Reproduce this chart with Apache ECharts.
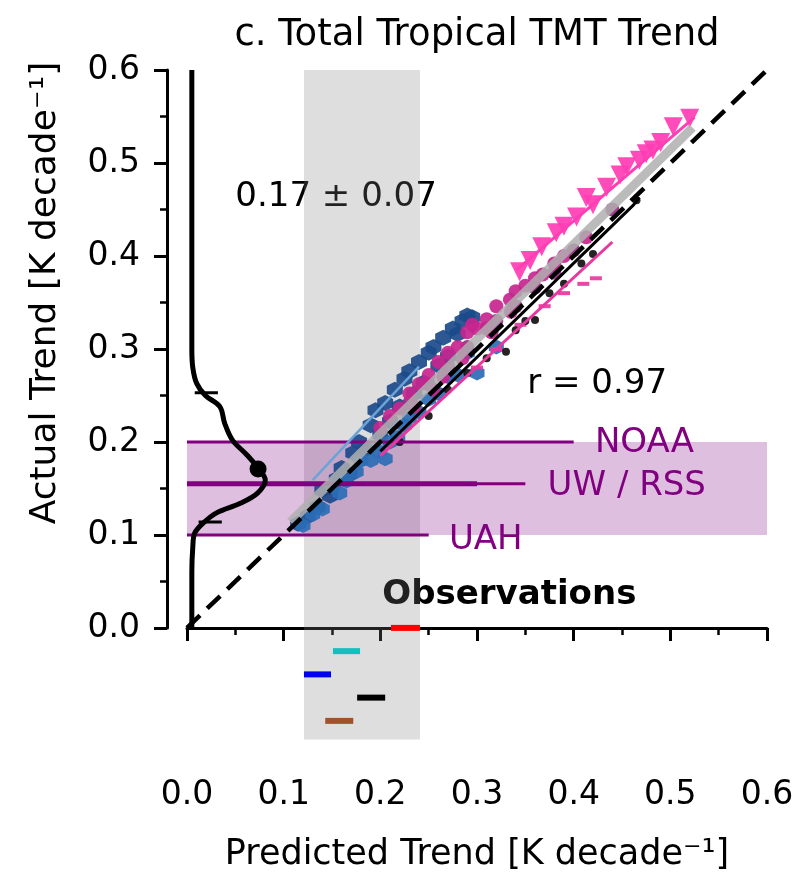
<!DOCTYPE html>
<html>
<head>
<meta charset="utf-8">
<script src="https://cdn.jsdelivr.net/npm/echarts@6/dist/echarts.min.js"></script>
<style>
  html, body { margin: 0; padding: 0; background: #fff; }
  #chart { width: 800px; height: 879px; }
</style>
</head>
<body>
<div id="chart"></div>
<script>
// model trends: [predicted, actual]
const hexDark = [[0.115,0.112],[0.125,0.12],[0.135,0.13],[0.14,0.148],[0.148,0.142],[0.155,0.16],[0.16,0.172],[0.168,0.165],[0.172,0.188],[0.178,0.2],[0.185,0.192],[0.19,0.218],[0.195,0.234],[0.2,0.208],[0.205,0.242],[0.21,0.222],[0.215,0.256],[0.22,0.238],[0.225,0.268],[0.23,0.276],[0.235,0.252],[0.24,0.286],[0.245,0.264],[0.25,0.296],[0.255,0.302],[0.26,0.282],[0.265,0.312],[0.27,0.292],[0.275,0.322],[0.28,0.316],[0.285,0.33],[0.29,0.336],[0.295,0.334]];
const hexBlue = [[0.12,0.11],[0.13,0.122],[0.14,0.128],[0.15,0.152],[0.158,0.145],[0.165,0.158],[0.175,0.168],[0.18,0.18],[0.19,0.18],[0.198,0.19],[0.205,0.182],[0.21,0.2],[0.218,0.205],[0.225,0.218],[0.23,0.226],[0.24,0.232],[0.25,0.246],[0.26,0.252],[0.27,0.27],[0.28,0.272],[0.29,0.296],[0.3,0.274],[0.32,0.302]];
const circMag = [[0.2,0.215],[0.21,0.228],[0.22,0.236],[0.23,0.252],[0.235,0.238],[0.24,0.262],[0.25,0.272],[0.255,0.256],[0.26,0.286],[0.265,0.27],[0.27,0.296],[0.28,0.302],[0.285,0.29],[0.29,0.318],[0.295,0.326],[0.3,0.322],[0.31,0.332],[0.315,0.318],[0.32,0.346],[0.334,0.353],[0.335,0.34],[0.34,0.362],[0.35,0.368],[0.36,0.376],[0.368,0.38],[0.38,0.392],[0.39,0.4],[0.413,0.42]];
const circPurple = [[0.23,0.242],[0.25,0.262],[0.27,0.282],[0.29,0.302],[0.31,0.322],[0.32,0.33],[0.34,0.346],[0.36,0.366],[0.38,0.382],[0.4,0.406],[0.44,0.45]];
const dotsBlack = [[0.22,0.2],[0.25,0.228],[0.27,0.256],[0.29,0.274],[0.31,0.29],[0.33,0.297],[0.34,0.32],[0.35,0.33],[0.36,0.331],[0.375,0.36],[0.39,0.37],[0.408,0.392],[0.42,0.402],[0.465,0.46]];
const dashPink = [[0.3,0.28],[0.32,0.3],[0.345,0.326],[0.37,0.346],[0.39,0.36],[0.41,0.37],[0.423,0.376]];
const triPink = [[0.344,0.383],[0.355,0.395],[0.367,0.41],[0.382,0.425],[0.39,0.432],[0.403,0.442],[0.413,0.463],[0.42,0.455],[0.434,0.474],[0.448,0.487],[0.455,0.496],[0.468,0.503],[0.475,0.51],[0.482,0.514],[0.49,0.522],[0.503,0.539],[0.52,0.548]];

// fit lines
const oneToOne = [[0, 0], [0.6, 0.6]];
const fitGray = [[0.107, 0.114], [0.523, 0.538]];
const fitTri = [[0.341, 0.385], [0.525, 0.549]];
const fitBlack = [[0.2, 0.19], [0.462, 0.455], [0.468, 0.463]];
const fitPink = [[0.2, 0.185], [0.44, 0.415]];
const fitBlue = [[0.13, 0.159], [0.24, 0.281]];

// observations
const obsBand = [0.1, 0.2];
const obsNOAA = [[0, 0.2], [0.4, 0.2]];
const obsUW = [[0, 0.155], [0.3, 0.155]];
const obsRSS = [[0, 0.155], [0.35, 0.155]];
const obsUAH = [[0, 0.1], [0.25, 0.1]];
const predBand = [0.121, 0.241];
const predBars = [
  { color: '#ff0000', pts: [[0.211, 0], [0.241, 0]] },
  { color: '#17bebe', pts: [[0.151, -0.025], [0.179, -0.025]] },
  { color: '#0000ee', pts: [[0.121, -0.05], [0.149, -0.05]] },
  { color: '#000000', pts: [[0.176, -0.075], [0.205, -0.075]] },
  { color: '#a0522d', pts: [[0.143, -0.1], [0.172, -0.1]] }
];

// distribution of actual trend (drawn along the y axis)
const pdfCurve = [[0.005,0.6],[0.005,0.3],[0.006,0.28],[0.01,0.263],[0.019,0.25],[0.034,0.238],[0.039,0.22],[0.047,0.202],[0.062,0.186],[0.0735,0.172],[0.081,0.159],[0.073,0.145],[0.055,0.134],[0.031,0.124],[0.017,0.113],[0.008,0.102],[0.006,0.087],[0.005,0.06],[0.005,0]];
const pdfMean = [[0.0735, 0.171]];
const pdfTicks = [[[0.008, 0.253], [0.032, 0.253]], [[0.012, 0.114], [0.036, 0.114]]];

const notes = [
  { text: '0.17 ± 0.07', pos: [0.05, 0.463], color: '#000', bold: false },
  { text: 'r = 0.97', pos: [0.352, 0.262], color: '#000', bold: false },
  { text: 'NOAA', pos: [0.422, 0.199], color: '#800080', bold: false },
  { text: 'UW / RSS', pos: [0.373, 0.152], color: '#800080', bold: false },
  { text: 'UAH', pos: [0.271, 0.094], color: '#800080', bold: false },
  { text: 'Observations', pos: [0.202, 0.035], color: '#000', bold: true }
];

const FONT = 'DejaVu Sans';
const hexPath = 'path://M0,-10L8.66,-5L8.66,5L0,10L-8.66,5L-8.66,-5Z';

const chart = echarts.init(document.getElementById('chart'));

const line = (data, color, width, extra) => Object.assign({
  type: 'line', data: data, symbol: 'none', silent: true,
  lineStyle: { color: color, width: width }, xAxisIndex: 0, yAxisIndex: 0
}, extra || {});

const scat = (data, symbol, color, size, extra) => Object.assign({
  type: 'scatter', data: data, symbol: symbol, symbolSize: size, silent: true,
  itemStyle: { color: color, opacity: 0.92 }, xAxisIndex: 0, yAxisIndex: 0
}, extra || {});

const series = [];

// bands
series.push({
  type: 'line', data: [], xAxisIndex: 0, yAxisIndex: 0, silent: true,
  markArea: {
    silent: true,
    data: [
      [{ coord: [predBand[0], -0.12], itemStyle: { color: 'rgba(128,128,128,0.26)' } }, { coord: [predBand[1], 0.6] }],
      [{ coord: [0, obsBand[0]], itemStyle: { color: 'rgba(128,0,128,0.25)' } }, { coord: [0.6, obsBand[1]] }]
    ]
  }
});

// observation lines
series.push(line(obsNOAA, '#800080', 3));
series.push(line(obsRSS, '#800080', 3));
series.push(line(obsUW, '#800080', 5));
series.push(line(obsUAH, '#800080', 3));

// model scatter
series.push(scat(hexDark, hexPath, '#1b4a8a', 16));
series.push(scat(hexBlue, hexPath, '#2a6db5', 15));
series.push(line(fitBlue, '#6aa3d8', 2.5));
series.push(scat(circPurple, 'circle', '#9a2c85', 14));
series.push(scat(circMag, 'circle', '#c7258e', 14));
series.push(line(fitPink, '#e8379f', 3));
series.push(scat(dashPink, 'rect', '#e8379f', [12, 4]));
series.push(line(fitBlack, '#000', 3));
series.push(scat(dotsBlack, 'circle', '#111', 8));
series.push(line(fitGray, 'rgba(175,175,175,0.85)', 9));
series.push(line(fitTri, '#ff3db4', 3));
series.push(scat(triPink, 'triangle', '#ff3db4', 19, { symbolRotate: 180 }));
series.push(line(oneToOne, '#000', 4.5, { lineStyle: { color: '#000', width: 4.5, type: [18, 10] } }));

// predicted observations bars
predBars.forEach(b => series.push(line(b.pts, b.color, 6)));

// distribution curve
series.push(line(pdfCurve, '#000', 5, { smooth: 0.35 }));
pdfTicks.forEach(t => series.push(line(t, '#000', 3)));
series.push(scat(pdfMean, 'circle', '#000', 17, { itemStyle: { color: '#000', opacity: 1 } }));

chart.setOption({
  animation: false,
  backgroundColor: '#fff',
  grid: [
    { left: 187, right: 33, top: 70, bottom: 120 },
    { left: 167, width: 600, top: 70, height: 558 }
  ],
  xAxis: [
    {
      gridIndex: 0, type: 'value', min: 0, max: 0.6, interval: 0.1,
      axisLine: { show: true, lineStyle: { color: '#000', width: 3 } },
      axisTick: { show: true, length: 13, lineStyle: { color: '#000', width: 3 } },
      minorTick: { show: true, splitNumber: 2, length: 7, lineStyle: { color: '#000', width: 2.5 } },
      splitLine: { show: false },
      axisLabel: { fontFamily: FONT, fontSize: 33, color: '#000', margin: 20, formatter: v => v.toFixed(1) },
      name: 'Predicted Trend [K decade⁻¹]', nameLocation: 'middle', nameGap: 78,
      nameTextStyle: { fontFamily: FONT, fontSize: 35, color: '#000' }
    },
    { gridIndex: 1, type: 'value', min: 0, max: 0.6, show: false }
  ],
  yAxis: [
    { gridIndex: 0, type: 'value', min: -0.141, max: 0.6, show: false },
    {
      gridIndex: 1, type: 'value', min: 0, max: 0.6, interval: 0.1,
      axisLine: { show: true, lineStyle: { color: '#000', width: 3 } },
      axisTick: { show: true, length: 13, lineStyle: { color: '#000', width: 3 } },
      minorTick: { show: true, splitNumber: 2, length: 7, lineStyle: { color: '#000', width: 2.5 } },
      splitLine: { show: false },
      axisLabel: { fontFamily: FONT, fontSize: 33, color: '#000', margin: 27, formatter: v => v.toFixed(1) }
    }
  ],
  series: series
});

// titles and notes placed through the data axes
const texts = [
  {
    type: 'text', x: 477, y: 35,
    style: { text: 'c. Total Tropical TMT Trend', fontFamily: FONT, fontSize: 37, fill: '#000', align: 'center', verticalAlign: 'middle' }
  },
  {
    type: 'text', x: 46, y: 293, rotation: Math.PI / 2,
    style: { text: 'Actual Trend [K decade⁻¹]', fontFamily: FONT, fontSize: 36, fill: '#000', align: 'center', verticalAlign: 'middle' }
  }
];
notes.forEach(n => {
  const p = chart.convertToPixel({ gridIndex: 0 }, n.pos);
  texts.push({
    type: 'text', x: p[0], y: p[1], silent: true,
    style: {
      text: n.text, fontFamily: FONT, fontSize: 34, fill: n.color,
      fontWeight: n.bold ? 'bold' : 'normal', align: 'left', verticalAlign: 'middle'
    }
  });
});
chart.setOption({ graphic: texts });
</script>
</body>
</html>
